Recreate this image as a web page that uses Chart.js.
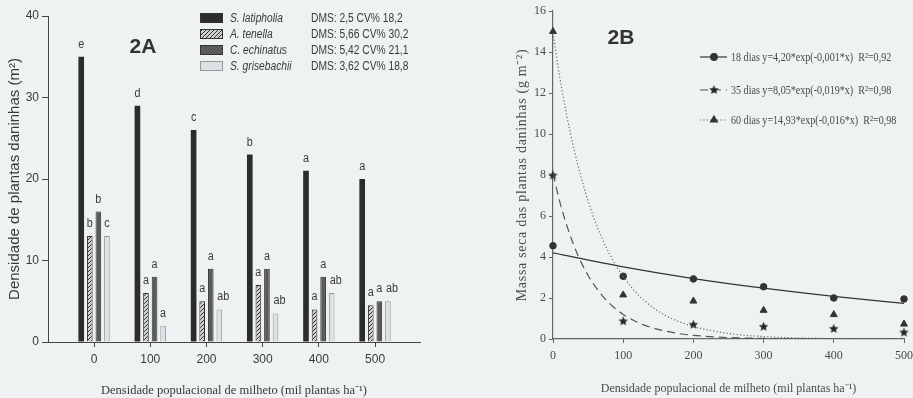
<!DOCTYPE html>
<html>
<head>
<meta charset="utf-8">
<script src="https://cdn.jsdelivr.net/npm/chart.js@4.4.1/dist/chart.umd.min.js"></script>
<style>
  body { margin: 0; background: #eff2f3; width: 913px; height: 398px; overflow: hidden; position: relative; }
  #boxA { position: absolute; left: 0; top: 0; width: 455px; height: 398px; }
  #boxB { position: absolute; left: 455px; top: 0; width: 458px; height: 398px; }
</style>
</head>
<body>
<div id="boxA"><canvas id="chartA"></canvas></div>
<div id="boxB"><canvas id="chartB"></canvas></div>
<script>
// ---- Dados figura 2A (densidade de plantas daninhas, m-2)
const densidades = [0, 100, 200, 300, 400, 500];
const especies = ['S. latipholia', 'A. tenella', 'C. echinatus', 'S. grisebachii'];
const dms = ['DMS: 2,5 CV% 18,2', 'DMS: 5,66 CV% 30,2', 'DMS: 5,42 CV% 21,1', 'DMS: 3,62 CV% 18,8'];
const latipholia = [35, 29, 26, 23, 21, 20];
const tenella = [13, 6, 5, 7, 4, 4.5];
const echinatus = [16, 8, 9, 9, 8, 5];
const grisebachii = [13, 2, 4, 3.5, 6, 5];
const letrasLatipholia = ['e', 'd', 'c', 'b', 'a', 'a'];
const letrasTenella = ['b', 'a', 'a', 'a', 'a', 'a'];
const letrasEchinatus = ['b', 'a', 'a', 'a', 'a', 'a'];
const letrasGrisebachii = ['c', 'a', 'ab', 'ab', 'ab', 'ab'];
const ticksA = [0, 10, 20, 30, 40];

// ---- Dados figura 2B (massa seca, g m-2)
const dias = ['18 dias', '35 dias', '60 dias'];
const equacoes = ['y=4,20*exp(-0,001*x)', 'y=8,05*exp(-0,019*x)', 'y=14,93*exp(-0,016*x)'];
const r2 = ['0,92', '0,98', '0,98'];
const massa18 = [4.55, 3.06, 2.93, 2.55, 2.0, 1.95];
const massa35 = [8.0, 0.89, 0.72, 0.62, 0.52, 0.34];
const massa60 = [15.0, 2.15, 1.85, 1.4, 1.19, 0.73];
// curvas ajustadas
const curvaX18 = [0, 100, 200, 300, 400, 500];
const curva18 = [4.2, 3.52, 2.95, 2.48, 2.08, 1.74];
const curvaX = [0, 10, 20, 30, 40, 50, 60, 70, 80, 90, 100, 120, 140, 160, 180, 200, 250, 300, 350, 400, 450, 500];
const curva35 = [8.05, 6.65, 5.5, 4.54, 3.75, 3.1, 2.57, 2.12, 1.75, 1.45, 1.2, 0.82, 0.56, 0.39, 0.26, 0.18, 0.07, 0.03, 0.01, 0, 0, 0];
const curva60 = [14.93, 12.7, 10.84, 9.25, 7.9, 6.73, 5.74, 4.9, 4.18, 3.57, 3.05, 2.2, 1.6, 1.15, 0.84, 0.61, 0.27, 0.12, 0.05, 0.02, 0.01, 0];

const fonteA = "'Liberation Sans', Arial, sans-serif";
const fonteB = "'Liberation Serif', 'Times New Roman', serif";
const corTextoA = '#3a3a3a';
const corTextoB = '#4a4a4a';

// padrões de preenchimento das barras
function padrao(fundo, linha, passo) {
  const c = document.createElement('canvas');
  c.width = passo; c.height = passo;
  const g = c.getContext('2d');
  g.fillStyle = fundo;
  g.fillRect(0, 0, passo, passo);
  g.strokeStyle = linha;
  g.lineWidth = 1;
  g.beginPath();
  g.moveTo(-1, passo + 1); g.lineTo(passo + 1, -1);
  g.moveTo(-1, 1); g.lineTo(1, -1);
  g.moveTo(passo - 1, passo + 1); g.lineTo(passo + 1, passo - 1);
  g.stroke();
  return g.createPattern(c, 'repeat');
}
const corLatipholia = '#2c2c2c';
const corTenella = padrao('#cfcfcf', '#333', 4);
const corEchinatus = padrao('#666', '#444', 3);
const corGrisebachii = '#dde2e5';

function xy(xs, ys) {
  return xs.map((x, i) => ({ x: x, y: ys[i] }));
}

// texto comprimido na horizontal (fonte condensada do original)
function textoEstreito(ctx, t, x, y, fator) {
  ctx.save();
  ctx.translate(x, y);
  ctx.scale(fator, 1);
  ctx.fillText(t, 0, 0);
  ctx.restore();
}

// rótulos de letras sobre as barras e legenda do 2A
const letrasA = [letrasLatipholia, letrasTenella, letrasEchinatus, letrasGrisebachii];
const pluginA = {
  id: 'extrasA',
  afterDatasetsDraw(chart) {
    const ctx = chart.ctx;
    ctx.save();
    ctx.font = '12px ' + fonteA;
    ctx.fillStyle = corTextoA;
    ctx.textAlign = 'center';
    ctx.textBaseline = 'alphabetic';
    chart.data.datasets.forEach((ds, i) => {
      chart.getDatasetMeta(i).data.forEach((bar, j) => {
        const t = letrasA[i][j];
        const dx = t.length > 1 ? 4 : 0;
        textoEstreito(ctx, t, bar.x + dx, bar.y - 9, 0.9);
      });
    });
    // título do painel
    ctx.font = 'bold 21px ' + fonteA;
    ctx.fillStyle = '#333';
    ctx.textBaseline = 'middle';
    ctx.fillText('2A', 143, 47);
    // legenda
    const linhas = [18, 34, 50, 66];
    chart.data.datasets.forEach((ds, i) => {
      const y = linhas[i];
      ctx.fillStyle = ds.backgroundColor;
      ctx.fillRect(200, y - 5, 23, 10);
      ctx.strokeStyle = i === 3 ? '#999' : '#333';
      ctx.lineWidth = 1;
      ctx.strokeRect(200.5, y - 4.5, 22, 9);
      ctx.fillStyle = corTextoA;
      ctx.textAlign = 'left';
      ctx.font = 'italic 12.5px ' + fonteA;
      textoEstreito(ctx, especies[i], 230, y + 1, 0.82);
      ctx.font = '12.5px ' + fonteA;
      textoEstreito(ctx, dms[i], 311, y + 1, 0.82);
    });
    ctx.restore();
  }
};

new Chart(document.getElementById('chartA'), {
  type: 'bar',
  data: {
    datasets: [
      { label: especies[0], data: xy(densidades, latipholia), backgroundColor: corLatipholia, borderWidth: 0 },
      { label: especies[1], data: xy(densidades, tenella), backgroundColor: corTenella, borderColor: '#333', borderWidth: 1 },
      { label: especies[2], data: xy(densidades, echinatus), backgroundColor: corEchinatus, borderColor: '#333', borderWidth: 1 },
      { label: especies[3], data: xy(densidades, grisebachii), backgroundColor: corGrisebachii, borderColor: '#999', borderWidth: 1 }
    ]
  },
  options: {
    responsive: true,
    maintainAspectRatio: false,
    animation: false,
    categoryPercentage: 0.61,
    barPercentage: 0.66,
    layout: { padding: { left: 0, top: 16, right: 35, bottom: 0 } },
    plugins: { legend: { display: false }, tooltip: { enabled: false } },
    scales: {
      x: {
        type: 'linear',
        min: -82,
        max: 580,
        offset: false,
        grid: { display: true, offset: false, drawOnChartArea: false, color: '#444', tickLength: 5 },
        border: { color: '#444', width: 1 },
        ticks: {
          includeBounds: false,
          stepSize: 100,
          padding: 5,
          color: corTextoA,
          font: { family: fonteA, size: 12 },
          maxRotation: 0
        },
        title: {
          display: true,
          text: 'Densidade populacional de milheto (mil plantas ha⁻¹)',
          color: corTextoA,
          font: { family: fonteB, size: 12.5 },
          padding: { top: 0, bottom: 0 }
        },
        afterFit(s) { s.height = 56; s.paddingLeft = 0; s.paddingRight = 0; }
      },
      y: {
        min: 0,
        max: 40,
        afterBuildTicks(s) { s.ticks = ticksA.map(v => ({ value: v })); },
        grid: { display: true, drawOnChartArea: false, color: '#444', tickLength: 6 },
        border: { color: '#444', width: 1 },
        ticks: { padding: 3, color: corTextoA, font: { family: fonteA, size: 12 } },
        title: {
          display: true,
          text: 'Densidade de plantas daninhas (m²)',
          color: corTextoA,
          font: { family: fonteA, size: 15 },
          padding: { top: 6, bottom: 0 }
        },
        afterFit(s) { s.width = 48; s.paddingTop = 0; s.paddingBottom = 0; }
      }
    }
  },
  plugins: [pluginA]
});

// marcador estrela cheia para 35 dias
const estrela = (() => {
  const c = document.createElement('canvas');
  c.width = 11; c.height = 11;
  const g = c.getContext('2d');
  g.fillStyle = '#262626';
  g.beginPath();
  for (let i = 0; i < 10; i++) {
    const r = i % 2 === 0 ? 5 : 2.3;
    const a = -Math.PI / 2 + i * Math.PI / 5;
    g.lineTo(5.5 + r * Math.cos(a), 6 + r * Math.sin(a));
  }
  g.closePath();
  g.fill();
  return c;
})();

const estilosB = [
  { ponto: 'circle', raio: 3.3, traco: [], cor: '#333' },
  { ponto: estrela, raio: 4, traco: [8, 5], cor: '#555' },
  { ponto: 'triangle', raio: 4, traco: [1.2, 2.2], cor: '#666' }
];

const pluginB = {
  id: 'extrasB',
  afterDraw(chart) {
    const ctx = chart.ctx;
    ctx.save();
    ctx.font = 'bold 21px ' + fonteA;
    ctx.fillStyle = '#333';
    ctx.textAlign = 'center';
    ctx.textBaseline = 'middle';
    ctx.fillText('2B', 166, 38);

    // título do eixo y, com letras espaçadas
    ctx.save();
    ctx.translate(67, 175);
    ctx.rotate(-Math.PI / 2);
    ctx.font = '14px ' + fonteB;
    ctx.letterSpacing = '0.7px';
    ctx.fillStyle = corTextoB;
    ctx.fillText('Massa seca das plantas daninhas (g m⁻²)', 0, 0);
    ctx.restore();

    // legenda
    const linhas = [57, 90, 120];
    linhas.forEach((y, i) => {
      const e = estilosB[i];
      ctx.strokeStyle = e.cor;
      ctx.lineWidth = 1.2;
      ctx.setLineDash(e.traco);
      ctx.beginPath();
      ctx.moveTo(245, y); ctx.lineTo(272, y);
      ctx.stroke();
      ctx.setLineDash([]);
      if (typeof e.ponto === 'string') {
        ctx.fillStyle = '#333';
        ctx.strokeStyle = '#333';
        Chart.helpers.drawPoint(ctx, { pointStyle: e.ponto, radius: e.raio, rotation: 0, borderWidth: 1 }, 259, y);
      } else {
        ctx.drawImage(e.ponto, 259 - 5.5, y - 6);
      }
      ctx.fillStyle = corTextoB;
      ctx.textAlign = 'left';
      ctx.font = '12px ' + fonteB;
      textoEstreito(ctx, dias[i] + ' ' + equacoes[i] + '  R²=' + r2[i], 276, y + 1, 0.84);
    });
    ctx.restore();
  }
};

new Chart(document.getElementById('chartB'), {
  type: 'scatter',
  data: {
    datasets: [
      { type: 'line', data: xy(curvaX18, curva18), borderColor: '#333', borderWidth: 1.3, pointRadius: 0, cubicInterpolationMode: 'monotone', fill: false },
      { type: 'line', data: xy(curvaX, curva35), borderColor: '#555', borderWidth: 1.2, borderDash: [8, 5], pointRadius: 0, cubicInterpolationMode: 'monotone', fill: false },
      { type: 'line', data: xy(curvaX, curva60), borderColor: '#666', borderWidth: 1.2, borderDash: [1.2, 2.2], pointRadius: 0, cubicInterpolationMode: 'monotone', fill: false },
      { label: dias[0], data: xy(densidades, massa18), pointStyle: 'circle', pointRadius: 3.3, backgroundColor: '#333', borderColor: '#333', clip: false },
      { label: dias[1], data: xy(densidades, massa35), pointStyle: estrela, pointRadius: 4, backgroundColor: '#333', borderColor: '#333', clip: false },
      { label: dias[2], data: xy(densidades, massa60), pointStyle: 'triangle', pointRadius: 4, backgroundColor: '#333', borderColor: '#333', clip: false }
    ]
  },
  options: {
    responsive: true,
    maintainAspectRatio: false,
    animation: false,
    layout: { padding: { left: 0, top: 11, right: 9, bottom: 0 } },
    plugins: { legend: { display: false }, tooltip: { enabled: false } },
    scales: {
      x: {
        type: 'linear',
        min: 0,
        max: 500,
        grid: { display: true, drawOnChartArea: false, color: '#666', tickLength: 4 },
        border: { color: '#666', width: 1.2 },
        ticks: { stepSize: 100, padding: 6, color: corTextoB, font: { family: fonteB, size: 12 }, maxRotation: 0 },
        title: {
          display: true,
          text: 'Densidade populacional de milheto (mil plantas ha⁻¹)',
          color: corTextoB,
          font: { family: fonteB, size: 12 },
          padding: { top: 0, bottom: 2 }
        },
        afterFit(s) { s.height = 59; s.paddingLeft = 0; s.paddingRight = 0; }
      },
      y: {
        min: 0,
        max: 16,
        grid: { display: true, drawOnChartArea: false, color: '#666', tickLength: 4 },
        border: { color: '#666', width: 1.2 },
        ticks: { stepSize: 2, padding: 3, color: corTextoB, font: { family: fonteB, size: 12 } },
        title: { display: false },
        afterFit(s) { s.width = 98; s.paddingTop = 0; s.paddingBottom = 0; }
      }
    }
  },
  plugins: [pluginB]
});
</script>
</body>
</html>
